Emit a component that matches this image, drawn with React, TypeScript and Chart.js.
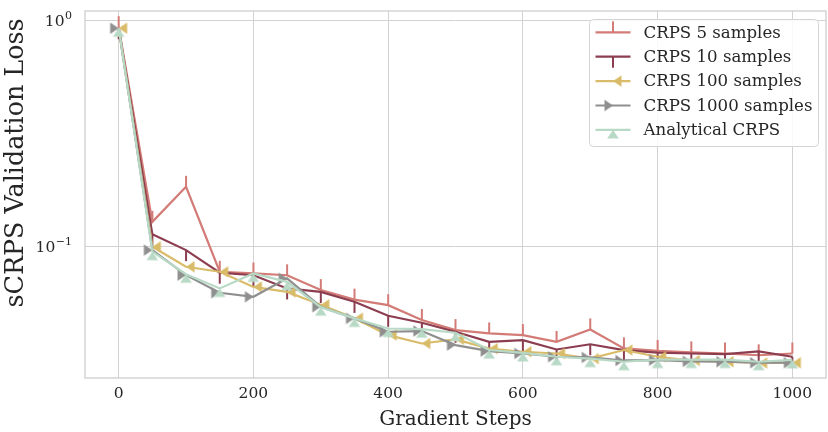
import React, { useEffect, useRef } from "react";
import { Chart, registerables } from "chart.js";

Chart.register(...registerables);

const steps = [0, 50, 100, 150, 200, 250, 300, 350, 400, 450, 500, 550, 600, 650, 700, 750, 800, 850, 900, 950, 1000];

const crps5 = [0.93, 0.128, 0.183, 0.077, 0.0757, 0.0743, 0.0639, 0.058, 0.0548, 0.0471, 0.0425, 0.0411, 0.0404, 0.0377, 0.0428, 0.0353, 0.0344, 0.0339, 0.0335, 0.0329, 0.0335];
const crps10 = [0.92, 0.1127, 0.096, 0.0763, 0.0743, 0.065, 0.0627, 0.0567, 0.0492, 0.0458, 0.0418, 0.0377, 0.0384, 0.0349, 0.0368, 0.0347, 0.0338, 0.0335, 0.0333, 0.0342, 0.0324];
const crps100 = [0.92, 0.0993, 0.081, 0.077, 0.066, 0.0627, 0.055, 0.048, 0.0404, 0.0371, 0.0387, 0.0352, 0.0341, 0.0335, 0.0318, 0.0347, 0.0324, 0.0312, 0.0308, 0.0304, 0.0305];
const crps1000 = [0.92, 0.096, 0.0744, 0.0622, 0.0597, 0.072, 0.0539, 0.0479, 0.0418, 0.0421, 0.0365, 0.0343, 0.0335, 0.0324, 0.0322, 0.0312, 0.0313, 0.0309, 0.0308, 0.0305, 0.0305];
const analytical = [0.92, 0.0945, 0.0751, 0.065, 0.0757, 0.0695, 0.0537, 0.0479, 0.0432, 0.0429, 0.0414, 0.0347, 0.0337, 0.0324, 0.0318, 0.0308, 0.0315, 0.0315, 0.0315, 0.0308, 0.0314];

const seriesLabels = ["CRPS 5 samples", "CRPS 10 samples", "CRPS 100 samples", "CRPS 1000 samples", "Analytical CRPS"];
const seriesValues = [crps5, crps10, crps100, crps1000, analytical];
const seriesColors = ["#d37b76", "#8c3e50", "#d9bc6a", "#8f8f8f", "#b7d9c5"];
const seriesMarkers = ["tickup", "tickdown", "caretleft", "caretright", "caretup"];

const xTicks = [0, 200, 400, 600, 800, 1000];
const yTicks = [0.1, 1];
const yTickBases = ["10", "10"];
const yTickExponents = ["\u22121", "0"];

const xTitle = "Gradient Steps";
const yTitle = "sCRPS Validation Loss";

const FONT = '"DejaVu Serif", serif';
const TEXT = "#262626";

function makeMarker(kind: string, color: string): HTMLCanvasElement {
  const S = 26;
  const c = document.createElement("canvas");
  c.width = S;
  c.height = S;
  const g = c.getContext("2d")!;
  const m = S / 2;
  g.strokeStyle = color;
  g.fillStyle = color;
  g.lineWidth = 2;
  g.lineJoin = "miter";
  const L = 8.5;
  const W = 5.8;
  if (kind === "tickup" || kind === "tickdown") {
    g.beginPath();
    g.moveTo(m, m);
    g.lineTo(m, kind === "tickup" ? m - 11 : m + 11);
    g.stroke();
  } else {
    g.beginPath();
    if (kind === "caretleft") {
      g.moveTo(m, m);
      g.lineTo(m + L, m - W);
      g.lineTo(m + L, m + W);
    } else if (kind === "caretright") {
      g.moveTo(m, m);
      g.lineTo(m - L, m - W);
      g.lineTo(m - L, m + W);
    } else {
      g.moveTo(m, m);
      g.lineTo(m - W, m + L);
      g.lineTo(m + W, m + L);
    }
    g.closePath();
    g.fill();
  }
  return c;
}

export default function App() {
  const ref = useRef<HTMLCanvasElement | null>(null);

  useEffect(() => {
    document.body.style.margin = "0";
    const canvas = ref.current;
    if (!canvas) return;
    const markers = seriesMarkers.map((k, i) => makeMarker(k, seriesColors[i]));

    const framePlugin = {
      id: "frame",
      afterDatasetsDraw(chart: any) {
        const { ctx, chartArea: a } = chart;
        ctx.save();
        ctx.strokeStyle = "#cccccc";
        ctx.lineWidth = 1.25;
        ctx.strokeRect(a.left, a.top, a.right - a.left, a.bottom - a.top);
        ctx.restore();
      },
    };

    const axisTextPlugin = {
      id: "axisText",
      afterDraw(chart: any) {
        const { ctx, chartArea: a } = chart;
        const ys = chart.scales.y;
        ctx.save();
        ctx.fillStyle = TEXT;
        yTicks.forEach((v, i) => {
          const py = ys.getPixelForValue(v);
          const right = a.left - 13;
          ctx.font = "11px " + FONT;
          const ew = ctx.measureText(yTickExponents[i]).width;
          ctx.textAlign = "left";
          ctx.textBaseline = "alphabetic";
          ctx.fillText(yTickExponents[i], right - ew, py - 1.5);
          ctx.font = "15.5px " + FONT;
          ctx.textAlign = "right";
          ctx.textBaseline = "middle";
          ctx.fillText(yTickBases[i], right - ew - 0.5, py + 1.5);
        });
        ctx.translate(16.5, 163);
        ctx.rotate(-Math.PI / 2);
        ctx.font = "25.4px " + FONT;
        ctx.textAlign = "center";
        ctx.textBaseline = "middle";
        ctx.fillText(yTitle, 0, 0);
        ctx.restore();
      },
    };

    const legendPlugin = {
      id: "customLegend",
      afterDraw(chart: any) {
        const { ctx, chartArea: a } = chart;
        ctx.save();
        const bw = 229;
        const bh = 127;
        const x0 = a.right - 7.5 - bw;
        const y0 = a.top + 8.5;
        ctx.beginPath();
        ctx.roundRect(x0, y0, bw, bh, 4);
        ctx.fillStyle = "rgba(255,255,255,0.85)";
        ctx.fill();
        ctx.strokeStyle = "#d4d4d4";
        ctx.lineWidth = 1;
        ctx.stroke();
        ctx.font = "16.6px " + FONT;
        ctx.textBaseline = "middle";
        seriesLabels.forEach((lab, i) => {
          const y = y0 + 12.8 + i * 24.4;
          const lx0 = x0 + 6;
          const lx1 = x0 + 41;
          ctx.strokeStyle = seriesColors[i];
          ctx.lineWidth = 2.2;
          ctx.beginPath();
          ctx.moveTo(lx0, y);
          ctx.lineTo(lx1, y);
          ctx.stroke();
          const mk = markers[i];
          ctx.drawImage(mk, (lx0 + lx1) / 2 - mk.width / 2, y - mk.height / 2);
          ctx.fillStyle = TEXT;
          ctx.fillText(lab, x0 + 54, y + 1);
        });
        ctx.restore();
      },
    };

    const chart = new Chart(canvas, {
      type: "line",
      data: {
        labels: steps,
        datasets: seriesValues.map((vals, i) => ({
          label: seriesLabels[i],
          data: steps.map((s, j) => ({ x: s, y: vals[j] })),
          borderColor: seriesColors[i],
          backgroundColor: seriesColors[i],
          borderWidth: 2.2,
          pointStyle: markers[i] as any,
          pointRadius: 5,
          pointHoverRadius: 5,
          tension: 0,
          fill: false,
          order: 5 - i,
        })),
      },
      options: {
        animation: false,
        responsive: false,
        events: [],
        layout: { autoPadding: false, padding: { top: 11, right: 2, left: 0, bottom: 0 } },
        plugins: {
          legend: { display: false },
          tooltip: { enabled: false },
        },
        scales: {
          x: {
            type: "linear",
            min: -50,
            max: 1050,
            bounds: "data",
            afterBuildTicks: (s: any) => {
              s.ticks = xTicks.map((v) => ({ value: v }));
            },
            afterFit: (s: any) => {
              s.height = 54;
              s.paddingLeft = 0;
              s.paddingRight = 0;
              s.paddingTop = 0;
              s.paddingBottom = 0;
            },
            grid: { color: "#d2d2d2", lineWidth: 1, drawTicks: false },
            border: { display: false },
            ticks: {
              color: TEXT,
              font: { family: FONT, size: 15.5 },
              padding: 7,
              maxRotation: 0,
              callback: (v: any) => String(v),
            },
            title: {
              display: true,
              text: xTitle,
              color: TEXT,
              font: { family: FONT, size: 20 },
              padding: { top: 0, bottom: 0 },
            },
          },
          y: {
            type: "logarithmic",
            min: 0.0261,
            max: 1.096,
            bounds: "data",
            afterBuildTicks: (s: any) => {
              s.ticks = yTicks.map((v) => ({ value: v }));
            },
            afterFit: (s: any) => {
              s.width = 85;
              s.paddingLeft = 0;
              s.paddingRight = 0;
              s.paddingTop = 0;
              s.paddingBottom = 0;
            },
            grid: { color: "#d2d2d2", lineWidth: 1, drawTicks: false },
            border: { display: false },
            ticks: { display: false },
            title: { display: false },
          },
        },
      },
      plugins: [framePlugin, axisTextPlugin, legendPlugin],
    });

    return () => chart.destroy();
  }, []);

  return (
    <div style={{ width: 828, height: 432 }}>
      <canvas ref={ref} width={828} height={432} style={{ width: 828, height: 432, display: "block" }} />
    </div>
  );
}
